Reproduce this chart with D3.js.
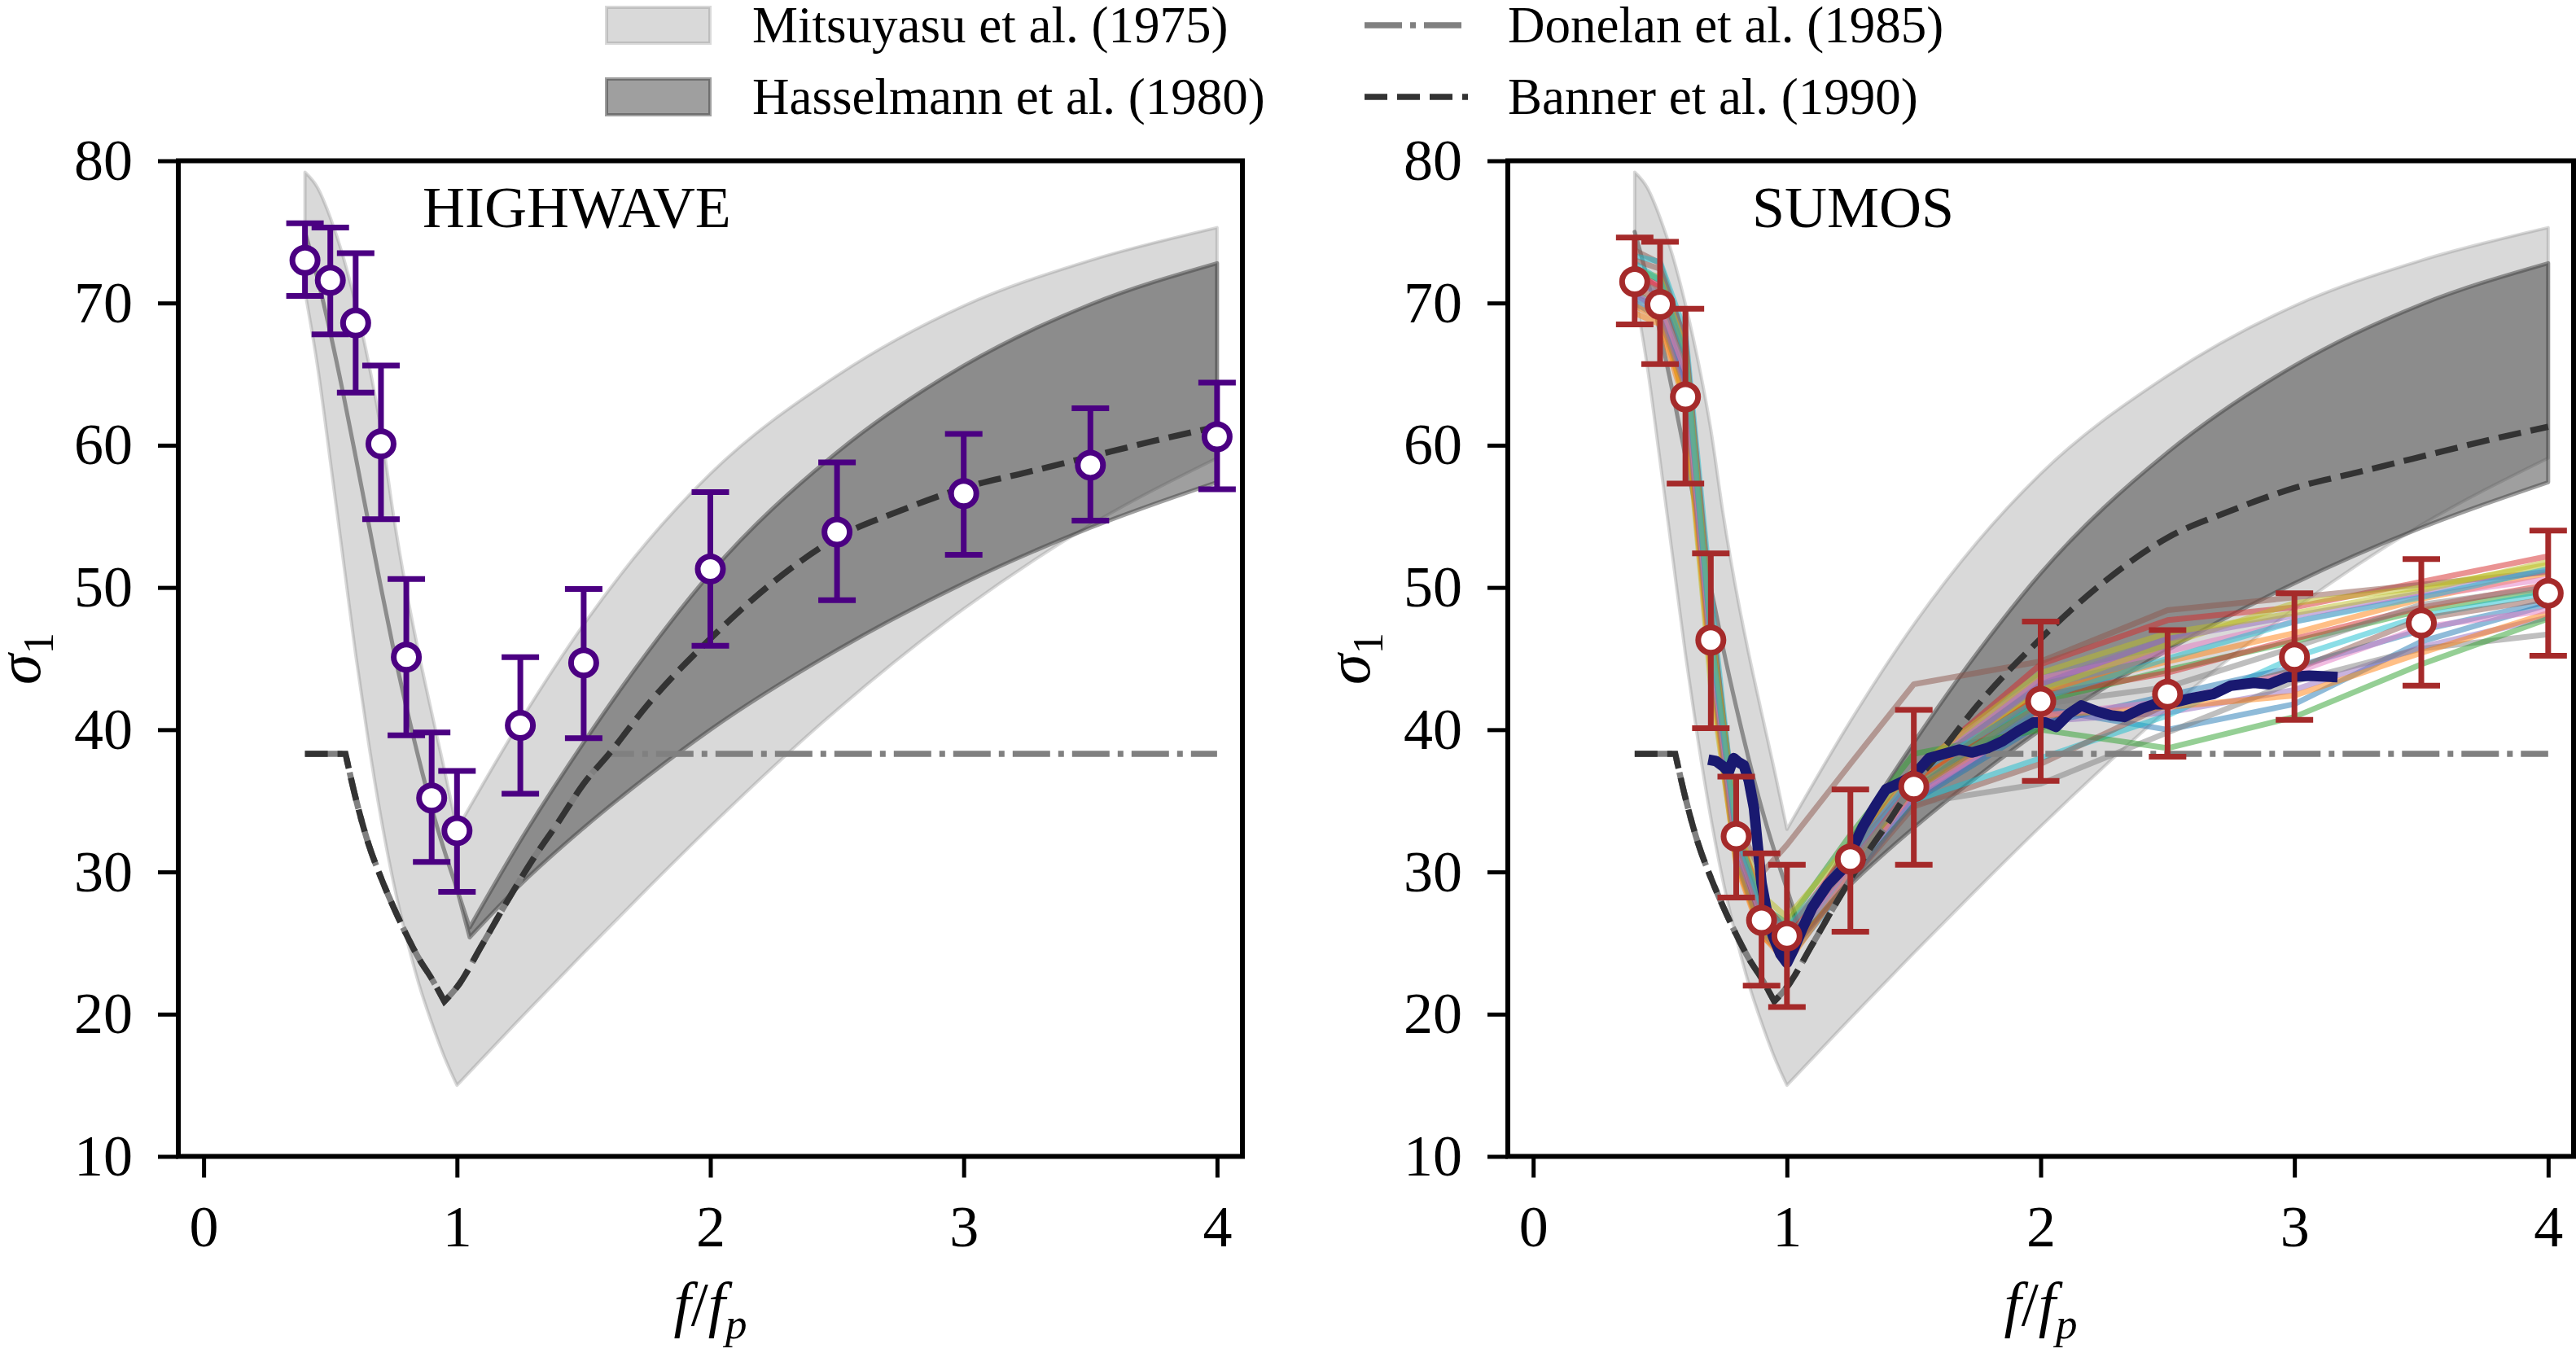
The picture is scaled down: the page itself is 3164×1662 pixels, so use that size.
<!DOCTYPE html>
<html>
<head>
<meta charset="utf-8">
<script src="https://cdn.jsdelivr.net/npm/d3@7"></script>
<style>
  body { margin: 0; background: #fff; }
</style>
</head>
<body>
<div id="chart"></div>
<script>
// ---- data ----
// bin centres (f/fp) used for the error-bar points and the SUMOS runs
const binX = [0.4, 0.5, 0.6, 0.7, 0.8, 0.9, 1.0, 1.25, 1.5, 2.0, 2.5, 3.0, 3.5, 4.0];

// HIGHWAVE (left)
const hwMean = [73.0, 71.6, 68.6, 60.1, 45.1, 35.2, 32.9, 40.3, 44.7, 51.3, 53.9, 56.6, 58.6, 60.6];
const hwLow  = [70.5, 67.8, 63.7, 54.8, 39.6, 30.7, 28.6, 35.5, 39.4, 45.9, 49.1, 52.3, 54.7, 56.9];
const hwHigh = [75.6, 75.3, 73.5, 65.6, 50.6, 39.8, 37.1, 45.1, 49.9, 56.7, 58.8, 60.8, 62.6, 64.4];

// SUMOS (right)
const suMean = [71.5, 69.9, 63.4, 46.3, 32.5, 26.6, 25.5, 30.9, 36.0, 42.0, 42.5, 45.1, 47.5, 49.6];
const suLow  = [68.5, 65.7, 57.3, 40.1, 28.2, 22.0, 20.5, 25.8, 30.5, 36.4, 38.1, 40.7, 43.1, 45.2];
const suHigh = [74.6, 74.3, 69.6, 52.4, 36.7, 31.3, 30.5, 35.8, 41.4, 47.6, 47.0, 49.6, 52.0, 54.0];

// Mitsuyasu et al. (1975) band
const tongueX = [0.4, 0.45, 0.5, 0.55, 0.6, 0.65, 0.7, 0.75, 0.8, 0.85, 0.9, 0.95, 1.0];
const mitsuTongueUpper = [79.2, 78.1, 76.0, 73.3, 69.9, 65.9, 61.1, 55.0, 49.8, 45.3, 41.2, 37.2, 33.0];
const mitsuTongueLower = [70.8, 65.5, 58.9, 52.1, 45.3, 39.2, 33.8, 29.2, 25.4, 22.1, 19.4, 17.0, 15.0];
const rightX = [1.0, 1.25, 1.5, 1.75, 2.0, 2.5, 3.0, 3.5, 4.0];
const mitsuRightUpper = [33.0, 40.6, 47.4, 53.2, 58.0, 64.9, 69.8, 73.0, 75.3];
const mitsuRightLower = [15.0, 19.7, 24.3, 28.8, 33.2, 41.4, 48.5, 54.4, 59.1];

// Hasselmann et al. (1980) band (single curve below fp)
const hasselLow = [75.0, 71.7, 67.9, 63.7, 59.2, 54.6, 50.0, 45.6, 41.6, 37.9, 34.5, 31.5, 28.8];
const hasselHighX = [1.05, 1.25, 1.5, 1.75, 2.0, 2.5, 3.0, 3.5, 4.0];
const hasselHighUpper = [26.1, 32.2, 39.1, 45.4, 51.0, 59.5, 65.6, 69.9, 72.8];
const hasselHighLower = [25.4, 29.1, 33.1, 36.7, 40.0, 45.6, 50.3, 54.2, 57.4];

// Banner et al. (1990) and Donelan et al. (1985)
const bannerX = [0.4, 0.56, 0.6, 0.65, 0.7, 0.75, 0.8, 0.85, 0.9, 0.95, 1.0, 1.1, 1.2, 1.3, 1.4, 1.5, 1.6,
                 1.75, 2.0, 2.25, 2.5, 2.75, 3.0, 3.25, 3.5, 3.75, 4.0];
const bannerY = [38.3, 38.3, 35.2, 32.0, 29.6, 27.5, 25.6, 23.9, 22.5, 20.9, 21.9, 24.9, 28.0, 30.9, 33.5, 36.2, 38.3,
                 41.7, 46.4, 50.4, 53.5, 55.4, 57.0, 58.1, 59.2, 60.3, 61.3];
const donelanX = [0.4, 0.56, 0.6, 0.65, 0.7, 0.75, 0.8, 0.85, 0.9, 0.95, 1.0, 1.1, 1.2, 1.3, 1.4, 1.5, 1.6, 4.0];
const donelanY = [38.3, 38.3, 35.2, 32.0, 29.6, 27.5, 25.6, 23.9, 22.5, 20.9, 21.9, 24.9, 28.0, 30.9, 33.5, 36.2, 38.3, 38.3];

// SUMOS individual runs (values at binX)
const runs = [
  [70.4, 69.6, 64.5, 45.5, 31.2, 26.0, 24.2, 30.0, 35.6, 41.5, 40.0, 41.8, 46.2, 48.8],
  [69.3, 68.5, 62.8, 44.0, 30.5, 25.5, 24.0, 30.4, 36.4, 42.6, 44.8, 46.8, 49.2, 51.0],
  [71.0, 70.2, 65.0, 46.2, 32.0, 26.8, 25.0, 30.6, 35.8, 42.0, 44.2, 46.2, 48.4, 49.8],
  [72.1, 71.2, 66.2, 47.5, 33.2, 28.0, 25.8, 31.6, 37.0, 44.6, 47.7, 48.6, 50.4, 52.2],
  [71.5, 70.6, 65.6, 46.4, 32.2, 26.9, 24.8, 30.0, 35.2, 40.6, 41.2, 42.8, 45.8, 47.9],
  [73.7, 72.8, 67.2, 48.0, 33.6, 29.9, 31.9, 37.6, 43.2, 44.8, 48.4, 49.3, 50.2, 51.1],
  [71.9, 71.3, 67.6, 47.8, 32.8, 27.0, 24.6, 30.8, 37.2, 43.6, 45.5, 47.6, 49.4, 50.6],
  [70.8, 69.9, 64.8, 45.2, 31.0, 26.2, 24.6, 30.1, 34.8, 36.2, 39.8, 43.4, 45.7, 46.7],
  [71.1, 70.2, 62.6, 43.2, 30.8, 25.8, 24.4, 30.2, 36.2, 42.8, 46.0, 48.9, 50.0, 51.6],
  [73.3, 72.9, 67.9, 49.5, 33.0, 27.2, 24.8, 29.8, 35.0, 38.0, 41.0, 45.1, 48.0, 49.6],
  [70.0, 69.0, 64.0, 44.8, 31.0, 25.8, 23.8, 29.4, 35.0, 40.4, 42.4, 44.4, 47.0, 49.0],
  [69.8, 68.9, 63.2, 44.5, 30.8, 25.6, 23.6, 29.8, 35.8, 41.0, 41.6, 42.4, 45.4, 48.2],
  [72.5, 71.6, 66.0, 46.8, 32.6, 27.6, 26.4, 32.6, 38.3, 40.0, 38.7, 40.9, 44.6, 47.8],
  [72.2, 71.0, 66.4, 47.0, 33.0, 28.0, 25.8, 31.2, 36.4, 42.4, 44.0, 46.4, 48.6, 50.2],
  [70.6, 69.6, 64.2, 45.6, 31.6, 26.6, 24.9, 30.5, 36.6, 43.2, 46.4, 48.0, 49.6, 51.2],
  [73.0, 72.4, 67.3, 48.6, 32.4, 26.4, 24.2, 29.4, 34.6, 37.6, 41.8, 44.2, 47.8, 49.2],
  [71.3, 70.0, 65.2, 46.0, 32.1, 26.8, 24.8, 30.0, 35.3, 41.0, 42.0, 44.0, 47.2, 48.4],
  [71.6, 70.8, 66.0, 46.6, 32.4, 27.1, 25.3, 30.6, 36.0, 41.8, 43.0, 45.8, 48.8, 50.0],
  [72.4, 71.8, 66.8, 47.4, 33.4, 28.4, 26.8, 32.0, 37.2, 44.0, 46.8, 48.2, 49.8, 51.8],
  [72.8, 71.6, 66.4, 46.6, 32.8, 27.6, 26.0, 31.2, 36.8, 42.2, 45.0, 47.6, 49.3, 51.3]
];
const runColors = ["#1f77b4", "#ff7f0e", "#2ca02c", "#d62728", "#9467bd", "#8c564b", "#e377c2", "#7f7f7f", "#bcbd22", "#17becf"];

// SUMOS averaged curve
const avgX = [0.69, 0.72, 0.75, 0.77, 0.79, 0.81, 0.83, 0.85, 0.87, 0.885, 0.90, 0.92, 0.945, 0.975, 1.0, 1.025,
              1.06, 1.10, 1.16, 1.22, 1.26, 1.30, 1.35, 1.39, 1.45, 1.50, 1.56, 1.62, 1.68, 1.73, 1.79, 1.85,
              1.91, 1.97, 2.02, 2.06, 2.11, 2.16, 2.22, 2.28, 2.33, 2.40, 2.45, 2.50, 2.59, 2.68, 2.75, 2.84,
              2.90, 2.97, 3.06, 3.17];
const avgY = [37.9, 37.8, 37.4, 37.0, 38.0, 37.7, 37.5, 36.4, 34.5, 31.8, 29.2, 27.3, 25.5, 24.2, 23.6, 24.5,
              26.0, 27.5, 29.1, 30.2, 31.7, 33.2, 34.7, 35.8, 36.3, 36.8, 38.0, 38.3, 38.6, 38.4, 38.7, 39.2,
              39.9, 40.5, 40.5, 40.2, 41.1, 41.7, 41.3, 41.0, 40.9, 41.5, 41.8, 41.8, 42.2, 42.5, 43.1, 43.3,
              43.2, 43.7, 43.8, 43.7];

const yTicks = [10, 20, 30, 40, 50, 60, 70, 80];
const xTicks = [0, 1, 2, 3, 4];
const legendLabels = ["Mitsuyasu et al. (1975)", "Hasselmann et al. (1980)", "Donelan et al. (1985)", "Banner et al. (1990)"];

// ---- figure ----
const width = 3164, height = 1662;
const serif = '"Liberation Serif", "Times New Roman", Times, serif';

const svg = d3.select("#chart")
  .append("svg")
  .attr("width", width)
  .attr("height", height)
  .style("font-family", serif);

const y = d3.scaleLinear().domain([10, 80]).range([1420.5, 197.5]);

// smooth path made of monotone pieces, with sharp corners at the given indices
function curvePath(xs, ys, corners, x, lead) {
  const pts = xs.map((v, i) => [x(v), y(ys[i])]);
  const cuts = [0, ...corners, pts.length - 1];
  const line = d3.line().curve(d3.curveMonotoneX);
  let d = "";
  for (let k = 0; k < cuts.length - 1; k++) {
    const part = line(pts.slice(cuts[k], cuts[k + 1] + 1));
    d += (k === 0 ? lead : "L") + part.slice(1);
  }
  return d;
}
const rev = a => a.slice().reverse();

function drawPanel(left, right, title, data) {
  const x = d3.scaleLinear().domain([-0.1, 4.1]).range([left, right]);
  const g = svg.append("g");

  // Mitsuyasu band
  const mUpX = tongueX.concat(rightX.slice(1));
  const mUpY = mitsuTongueUpper.concat(mitsuRightUpper.slice(1));
  const mLoY = mitsuTongueLower.concat(mitsuRightLower.slice(1));
  g.append("path")
    .attr("d", curvePath(mUpX, mUpY, [12], x, "M") + curvePath(rev(mUpX), rev(mLoY), [8], x, "L") + "Z")
    .attr("fill", "#808080").attr("fill-opacity", 0.3)
    .attr("stroke", "#808080").attr("stroke-opacity", 0.3)
    .attr("stroke-width", 4).attr("stroke-linejoin", "round");

  // Hasselmann band
  const hUpX = tongueX.concat(hasselHighX);
  const hUpY = hasselLow.concat(hasselHighUpper);
  const hLoY = hasselLow.concat(hasselHighLower);
  g.append("path")
    .attr("d", curvePath(hUpX, hUpY, [12, 13], x, "M") + curvePath(rev(hUpX), rev(hLoY), [8, 9], x, "L") + "Z")
    .attr("fill", "#404040").attr("fill-opacity", 0.5)
    .attr("stroke", "#404040").attr("stroke-opacity", 0.5)
    .attr("stroke-width", 5).attr("stroke-linejoin", "round");

  // individual SUMOS runs
  if (data.runs) {
    const line = d3.line().x((d, i) => x(binX[i])).y(d => y(d));
    g.selectAll("path.run")
      .data(data.runs)
      .join("path")
      .attr("class", "run")
      .attr("d", line)
      .attr("fill", "none")
      .attr("stroke", (d, i) => runColors[i % runColors.length])
      .attr("stroke-opacity", 0.5)
      .attr("stroke-width", 7)
      .attr("stroke-linejoin", "round");
  }

  // Donelan (dash-dot) and Banner (dashed)
  g.append("path")
    .attr("d", curvePath(donelanX, donelanY, [1, 9, 16], x, "M"))
    .attr("fill", "none").attr("stroke", "#808080").attr("stroke-width", 7.5)
    .attr("stroke-dasharray", "46,10,7,10");
  g.append("path")
    .attr("d", curvePath(bannerX, bannerY, [1, 9], x, "M"))
    .attr("fill", "none").attr("stroke", "#333333").attr("stroke-width", 7.5)
    .attr("stroke-dasharray", "28,12");

  // averaged SUMOS curve
  if (data.avg) {
    g.append("path")
      .datum(avgX.map((v, i) => [v, avgY[i]]))
      .attr("d", d3.line().x(d => x(d[0])).y(d => y(d[1])))
      .attr("fill", "none").attr("stroke", "#191970").attr("stroke-width", 13)
      .attr("stroke-linejoin", "round");
  }

  // error bars
  const eb = g.append("g").attr("stroke", data.color).attr("stroke-width", 7);
  eb.selectAll("line.bar").data(binX).join("line").attr("class", "bar")
    .attr("x1", d => x(d)).attr("x2", d => x(d))
    .attr("y1", (d, i) => y(data.low[i])).attr("y2", (d, i) => y(data.high[i]));
  eb.selectAll("line.capl").data(binX).join("line").attr("class", "capl")
    .attr("x1", d => x(d) - 23).attr("x2", d => x(d) + 23)
    .attr("y1", (d, i) => y(data.low[i])).attr("y2", (d, i) => y(data.low[i]));
  eb.selectAll("line.caph").data(binX).join("line").attr("class", "caph")
    .attr("x1", d => x(d) - 23).attr("x2", d => x(d) + 23)
    .attr("y1", (d, i) => y(data.high[i])).attr("y2", (d, i) => y(data.high[i]));
  eb.selectAll("circle").data(binX).join("circle")
    .attr("cx", d => x(d)).attr("cy", (d, i) => y(data.mean[i]))
    .attr("r", 15.5).attr("fill", "#fff")
    .attr("stroke", data.color).attr("stroke-width", 7);

  // axes
  const ax = g.append("g").attr("transform", `translate(${left},0)`)
    .call(d3.axisLeft(y).tickValues(yTicks).tickSize(25).tickPadding(31));
  const bx = g.append("g").attr("transform", `translate(0,${y(10)})`)
    .call(d3.axisBottom(x).tickValues(xTicks).tickFormat(d3.format("d")).tickSize(26).tickPadding(33));
  [ax, bx].forEach(a => {
    a.attr("font-family", serif).attr("font-size", 72);
    a.select(".domain").remove();
    a.selectAll(".tick line").attr("stroke", "#000").attr("stroke-width", 5);
    a.selectAll(".tick text").attr("fill", "#000");
  });

  // spines
  g.append("rect")
    .attr("x", left).attr("y", y(80))
    .attr("width", right - left).attr("height", y(10) - y(80))
    .attr("fill", "none").attr("stroke", "#000").attr("stroke-width", 6);

  // panel name
  g.append("text")
    .attr("x", left + 300).attr("y", 279)
    .attr("font-size", 72)
    .text(title);

  // axis labels
  const yl = g.append("text")
    .attr("transform", `translate(${left - 170},${(y(10) + y(80)) / 2}) rotate(-90)`)
    .attr("text-anchor", "middle").attr("font-size", 76);
  yl.append("tspan").attr("font-style", "italic").text("σ");
  yl.append("tspan").attr("font-size", 53).attr("dy", 16).text("1");

  const xl = g.append("text")
    .attr("x", (left + right) / 2).attr("y", 1628)
    .attr("text-anchor", "middle").attr("font-size", 76).attr("font-style", "italic");
  xl.append("tspan").text("f");
  xl.append("tspan").attr("font-style", "normal").text("/");
  xl.append("tspan").text("f");
  xl.append("tspan").attr("font-size", 53).attr("dy", 16).text("p");
}

drawPanel(219, 1526, "HIGHWAVE", {mean: hwMean, low: hwLow, high: hwHigh, color: "#4b0082"});
drawPanel(1852, 3161, "SUMOS", {mean: suMean, low: suLow, high: suHigh, color: "#a52a2a", runs: runs, avg: true});

// ---- legend ----
const leg = svg.append("g").attr("font-size", 63);
const rowY = [31, 119];
// patches
leg.append("rect").attr("x", 745).attr("y", rowY[0] - 22).attr("width", 127).attr("height", 44)
  .attr("fill", "#808080").attr("fill-opacity", 0.3)
  .attr("stroke", "#808080").attr("stroke-opacity", 0.3).attr("stroke-width", 4);
leg.append("rect").attr("x", 745).attr("y", rowY[1] - 22).attr("width", 127).attr("height", 44)
  .attr("fill", "#404040").attr("fill-opacity", 0.5)
  .attr("stroke", "#404040").attr("stroke-opacity", 0.5).attr("stroke-width", 4);
// lines
leg.append("line").attr("x1", 1676).attr("x2", 1803).attr("y1", rowY[0]).attr("y2", rowY[0])
  .attr("stroke", "#808080").attr("stroke-width", 7.5).attr("stroke-dasharray", "46,10,7,10");
leg.append("line").attr("x1", 1676).attr("x2", 1803).attr("y1", rowY[1]).attr("y2", rowY[1])
  .attr("stroke", "#333333").attr("stroke-width", 7.5).attr("stroke-dasharray", "28,12");
// labels
const labelPos = [[924, rowY[0]], [924, rowY[1]], [1852, rowY[0]], [1852, rowY[1]]];
leg.selectAll("text").data(legendLabels).join("text")
  .attr("x", (d, i) => labelPos[i][0])
  .attr("y", (d, i) => labelPos[i][1] + 21)
  .text(d => d);
</script>
</body>
</html>
